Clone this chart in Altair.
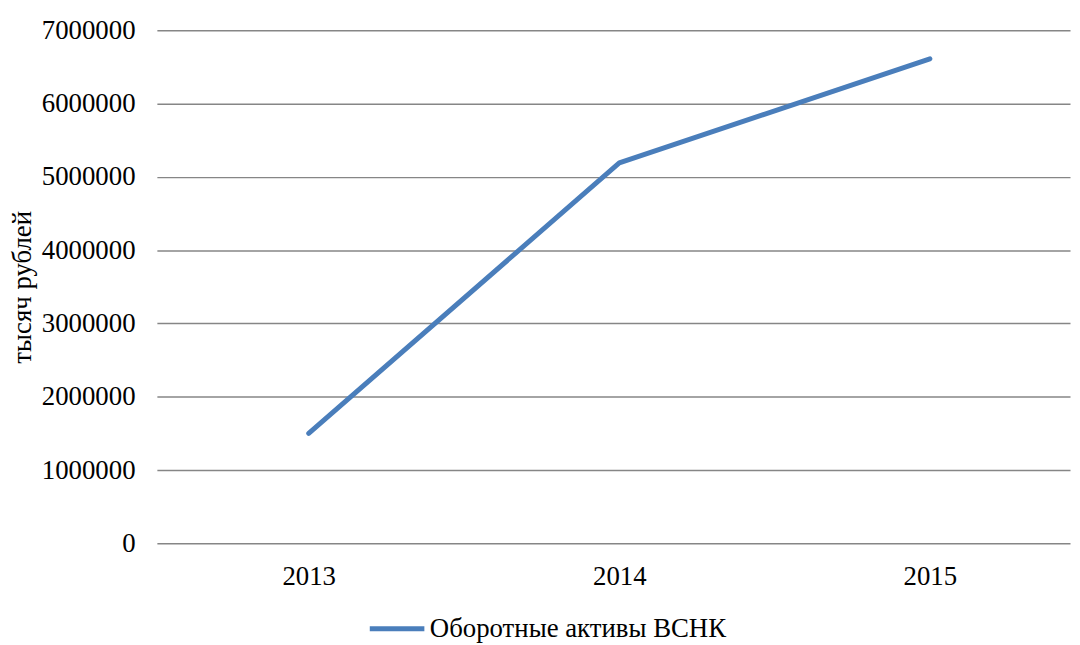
import altair as alt
import pandas as pd

years = ["2013", "2014", "2015"]
values = [1500000, 5190000, 6610000]
series_name = "Оборотные активы ВСНК"
y_ticks = [0, 1000000, 2000000, 3000000, 4000000, 5000000, 6000000, 7000000]

df = pd.DataFrame({"year": years, "value": values, "series": [series_name] * len(years)})

FONT = "Liberation Serif"

chart = alt.Chart(df).mark_line(strokeWidth=5, strokeCap="round", strokeJoin="round").encode(
    x=alt.X("year:O",
            scale=alt.Scale(type="point", padding=0.47, align=0.52),
            axis=alt.Axis(title=None, labelAngle=0, ticks=False, domain=False, grid=False,
                          labelFont=FONT, labelFontSize=27, labelColor="black", labelPadding=20)),
    y=alt.Y("value:Q",
            scale=alt.Scale(domain=[0, 7000000], nice=False, zero=True),
            axis=alt.Axis(values=y_ticks, format="d", grid=True, gridColor="#868686", gridWidth=1.5,
                          domain=False, ticks=False, labelPadding=22,
                          labelFont=FONT, labelFontSize=27, labelColor="black",
                          title="тысяч рублей", titleFont=FONT, titleFontSize=27,
                          titleFontWeight="normal", titleColor="black", titlePadding=5)),
    color=alt.Color("series:N",
                    scale=alt.Scale(range=["#4A7EBB"]),
                    legend=alt.Legend(title=None, orient="none", legendX=212, legendY=573,
                                      direction="horizontal", symbolType="stroke",
                                      symbolStrokeWidth=5, symbolSize=3025, symbolOffset=0,
                                      labelFont=FONT, labelFontSize=27, labelColor="black",
                                      labelOffset=3, labelLimit=0))
).properties(
    width=920, height=517,
    autosize="none",
    padding={"left": 150, "top": 20, "right": 2, "bottom": 100}
).configure_view(stroke=None)

chart.save("out.html", embed_options={"renderer": "svg", "actions": False})
